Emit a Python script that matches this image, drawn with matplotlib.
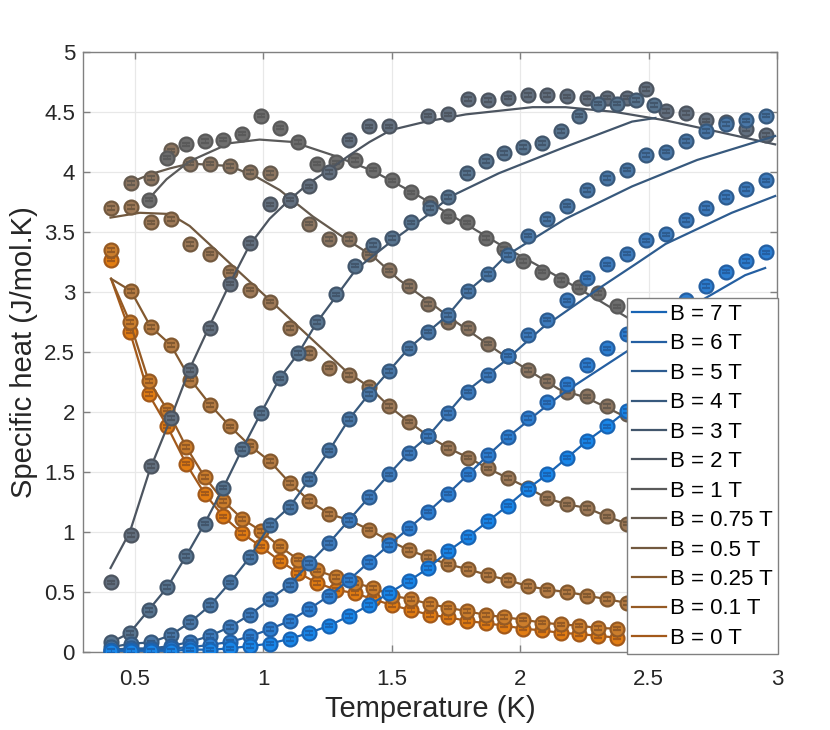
import numpy as np
import matplotlib
matplotlib.use("Agg")
from matplotlib import pyplot as plt

# temperature grids (K)
temp_a = [0.408, 0.485, 0.562, 0.640, 0.717, 0.794, 0.871, 0.948, 1.026, 1.103,
          1.180, 1.257, 1.334, 1.412, 1.489, 1.566, 1.643, 1.720, 1.798, 1.875,
          1.952, 2.029, 2.106, 2.184, 2.261, 2.338, 2.415, 2.492, 2.570, 2.647,
          2.724, 2.801, 2.878, 2.956]
temp_b = [0.408, 0.481, 0.554, 0.627, 0.700, 0.772, 0.845, 0.918, 0.991, 1.064,
          1.137, 1.210, 1.283, 1.356, 1.429, 1.502, 1.575, 1.648, 1.720, 1.793,
          1.866, 1.939, 2.012, 2.085, 2.158, 2.231, 2.304, 2.377, 2.450, 2.522]

# measured specific heat (J/mol.K)
c_b0 = [3.27, 2.67, 2.15, 1.88, 1.57, 1.32, 1.13, 0.99, 0.88, 0.76, 0.66, 0.575, 0.52, 0.49,
        0.44, 0.39, 0.35, 0.31, 0.29, 0.26, 0.24, 0.22, 0.195, 0.18, 0.16, 0.15, 0.135, 0.12]
c_b01 = [3.35, 2.75, 2.26, 2.02, 1.71, 1.46, 1.26, 1.11, 1.01, 0.88, 0.77, 0.68, 0.625, 0.575,
         0.535, 0.47, 0.44, 0.40, 0.37, 0.34, 0.31, 0.29, 0.27, 0.245, 0.23, 0.22, 0.20, 0.195]
c_b025 = [3.01, 2.71, 2.56, 2.27, 2.06, 1.88, 1.72, 1.59, 1.41, 1.26, 1.15, 1.10, 1.02,
          0.93, 0.85, 0.79, 0.73, 0.69, 0.64, 0.60, 0.55, 0.52, 0.50, 0.47, 0.44, 0.41]
c_b05 = [3.70, 3.71, 3.58, 3.61, 3.40, 3.32, 3.17, 3.02, 2.92, 2.70, 2.49, 2.37, 2.31, 2.21,
         2.05, 1.92, 1.80, 1.70, 1.62, 1.53, 1.45, 1.37, 1.28, 1.23, 1.20, 1.13, 1.07]
c_b075 = [3.91, 3.95, 4.18, 4.07, 4.07, 4.05, 4.00, 3.99, 3.77, 3.57, 3.44, 3.44, 3.32,
          3.18, 3.05, 2.90, 2.75, 2.70, 2.57, 2.47, 2.35, 2.26, 2.17, 2.13, 2.05, 1.98]
c_b1 = [3.77, 4.12, 4.23, 4.26, 4.27, 4.32, 4.47, 4.37, 4.25, 4.07, 4.08, 4.10, 4.02,
        3.93, 3.83, 3.74, 3.63, 3.58, 3.45, 3.36, 3.26, 3.17, 3.10, 3.04, 2.99, 2.88]
c_b2 = [0.58, 0.975, 1.55, 1.95, 2.35, 2.70, 3.07, 3.41, 3.73, 3.77, 3.88, 4.00, 4.27, 4.38,
        4.38, np.nan, 4.47, 4.48, 4.61, 4.60, 4.62, 4.64, 4.64, 4.63, 4.62, 4.62, 4.62, 4.69,
        4.51, 4.49, 4.43, 4.42, 4.36, 4.31]
c_b3 = [0.08, 0.16, 0.35, 0.54, 0.80, 1.07, 1.37, 1.69, 1.99, 2.28, 2.49, 2.75, 2.98, 3.22,
        3.39, 3.45, 3.58, 3.70, 3.79, 3.99, 4.09, 4.16, 4.21, 4.24, 4.34, 4.47, 4.57, 4.57,
        4.60, 4.56]
c_b4 = [0.04, 0.07, 0.08, 0.14, 0.25, 0.39, 0.58, 0.79, 1.06, 1.21, 1.44, 1.68, 1.94, 2.15,
        2.34, 2.53, 2.67, 2.81, 3.01, 3.15, 3.31, 3.47, 3.61, 3.72, 3.85, 3.95, 4.02, 4.14,
        4.17, 4.26, 4.34, 4.40, 4.43, 4.47]
c_b5 = [0.02, 0.03, 0.03, 0.05, 0.085, 0.135, 0.21, 0.31, 0.44, 0.56, 0.74, 0.91, 1.10, 1.29,
        1.48, 1.66, 1.80, 1.99, 2.17, 2.31, 2.47, 2.64, 2.77, 2.93, 3.12, 3.23, 3.32, 3.43,
        3.48, 3.60, 3.70, 3.79, 3.86, 3.93]
c_b6 = [0.01, 0.02, 0.02, 0.03, 0.04, 0.06, 0.085, 0.13, 0.19, 0.26, 0.36, 0.47, 0.60, 0.75,
        0.89, 1.03, 1.17, 1.32, 1.48, 1.64, 1.79, 1.95, 2.08, 2.23, 2.39, 2.53, 2.65, 2.76,
        2.85, 2.93, 3.05, 3.17, 3.26, 3.33]
c_b7 = [0.01, 0.01, 0.01, 0.01, 0.02, 0.02, 0.03, 0.05, 0.07, 0.11, 0.16, 0.22, 0.30, 0.39,
        0.49, 0.59, 0.70, 0.84, 0.96, 1.09, 1.22, 1.36, 1.48, 1.62, 1.76, 1.88, 2.01]

# model curves (where they leave the data)
fit_start_t, fit_start_c = 0.408, 3.11
tail_t_b6 = [2.102, 2.183, 2.455, 2.682, 2.876, 2.954]
tail_c_b6 = [2.05, 2.18, 2.56, 2.90, 3.14, 3.20]
tail_t_b5 = [1.790, 1.944, 2.086, 2.307, 2.455, 2.566, 2.824, 2.993]
tail_c_b5 = [2.17, 2.43, 2.70, 3.03, 3.24, 3.40, 3.66, 3.80]
tail_t_b4 = [1.944, 2.177, 2.436, 2.689, 2.993]
tail_c_b4 = [3.30, 3.61, 3.88, 4.10, 4.30]
tail_t_b3 = [1.362, 1.504, 1.646, 1.724, 1.918, 2.177, 2.436, 2.527]
tail_c_b3 = [3.19, 3.43, 3.65, 3.79, 3.99, 4.21, 4.42, 4.45]
fit_t_b2 = [0.406, 0.481, 0.559, 0.637, 0.714, 0.792, 0.870, 0.947, 1.025, 1.103, 1.180, 1.258,
            1.336, 1.414, 1.498, 1.634, 1.789, 2.048, 2.177, 2.371, 2.566, 2.760, 2.993]
fit_c_b2 = [0.70, 1.00, 1.52, 1.93, 2.36, 2.72, 3.07, 3.39, 3.61, 3.77, 3.91, 4.02,
            4.14, 4.25, 4.35, 4.42, 4.48, 4.54, 4.54, 4.50, 4.43, 4.34, 4.23]
fit_t_b1 = [0.552, 0.624, 0.714, 0.870, 0.986, 1.116, 1.271, 1.426, 1.582, 1.724, 1.918,
            2.112, 2.307, 2.423]
fit_c_b1 = [3.77, 3.94, 4.09, 4.24, 4.27, 4.25, 4.14, 4.01, 3.83, 3.65, 3.40, 3.17, 2.93, 2.78]
fit_t_b075 = [0.481, 0.559, 0.637, 0.714, 0.870, 0.973, 1.064, 1.193, 1.323, 1.426, 1.530,
              1.646, 1.724, 1.918, 2.151, 2.257, 2.335, 2.410]
fit_c_b075 = [3.91, 3.98, 4.03, 4.07, 4.05, 3.96, 3.85, 3.63, 3.44, 3.30, 3.10, 2.92, 2.79,
              2.50, 2.19, 2.12, 2.04, 1.96]
head_t_b05 = [0.406, 0.520, 0.637, 0.714, 0.805, 0.870, 1.012, 1.193, 1.323]
head_c_b05 = [3.62, 3.66, 3.65, 3.55, 3.37, 3.24, 2.96, 2.60, 2.34]

err = 0.015

labels = ["B = 0 T", "B = 0.1 T", "B = 0.25 T", "B = 0.5 T", "B = 0.75 T", "B = 1 T",
          "B = 2 T", "B = 3 T", "B = 4 T", "B = 5 T", "B = 6 T", "B = 7 T"]
line_colors = ["#a3591a", "#955a24", "#83592f", "#72593f", "#655a4e", "#5a5a5a",
               "#4d5560", "#42566c", "#37597d", "#2d5c90", "#245fa2", "#1864b4"]
face_colors = ["#e27d12", "#cc7e2c", "#b67c44", "#9f7a58", "#8d7560", "#6e6e6e",
               "#637080", "#587590", "#4a78a8", "#3d7bbd", "#2d7fd2", "#1887ea"]

pts = [
    (temp_b[:28], c_b0),
    (temp_b[:28], c_b01),
    (temp_a[1:27], c_b025),
    (temp_a[:27], c_b05),
    (temp_a[1:27], c_b075),
    (temp_b[2:28], c_b1),
    (temp_a, c_b2),
    (temp_b, c_b3),
    (temp_a, c_b4),
    (temp_a, c_b5),
    (temp_a, c_b6),
    (temp_a[:27], c_b7),
]
fits = [
    ([fit_start_t] + temp_b[1:28], [fit_start_c] + c_b0[1:]),
    ([fit_start_t] + temp_b[1:28], [fit_start_c] + c_b01[1:]),
    ([fit_start_t] + temp_a[1:27], [fit_start_c] + c_b025),
    (head_t_b05 + temp_a[13:27], head_c_b05 + c_b05[13:]),
    (fit_t_b075, fit_c_b075),
    (fit_t_b1, fit_c_b1),
    (fit_t_b2, fit_c_b2),
    (temp_b[:12] + tail_t_b3, c_b3[:12] + tail_c_b3),
    (temp_a[:20] + tail_t_b4, c_b4[:20] + tail_c_b4),
    (temp_a[:17] + tail_t_b5, c_b5[:17] + tail_c_b5),
    (temp_a[:21] + tail_t_b6, c_b6[:21] + tail_c_b6),
    (temp_a[:27], c_b7),
]

plt.rcParams['font.family'] = ['Liberation Sans', 'DejaVu Sans']

fig = plt.figure(figsize=(8.3, 7.3), dpi=100)
ax = fig.add_axes([0.1004, 0.1068, 0.8357, 0.822])

for i in range(len(labels)):
    z = 3 + i * 0.5
    ax.plot(fits[i][0], fits[i][1], '-', color=line_colors[i], lw=1.6,
            label=labels[i], zorder=z)
    ax.errorbar(pts[i][0], pts[i][1], yerr=err, fmt='o', ms=10,
                mfc=face_colors[i], mec=line_colors[i], mew=1.6,
                ecolor=line_colors[i], elinewidth=0.6, capsize=2.7, capthick=1.3,
                barsabove=True, zorder=z + 0.2)

ax.set_xlim(0.3, 3)
ax.set_ylim(0, 5)
ax.set_xticks([0.5, 1, 1.5, 2, 2.5, 3])
ax.set_xticklabels(['0.5', '1', '1.5', '2', '2.5', '3'])
ax.set_yticks(np.arange(0, 5.01, 0.5))
ax.set_yticklabels(['0', '0.5', '1', '1.5', '2', '2.5', '3', '3.5', '4', '4.5', '5'])
ax.grid(True, color='#e8e8e8', lw=0.9)
ax.set_axisbelow(True)
for s in ax.spines.values():
    s.set_color('#808080')
    s.set_linewidth(1)
ax.tick_params(direction='in', length=5, width=1, color='#808080', top=True, right=True,
               labelsize=16, labelcolor='#262626')
ax.tick_params(axis='x', pad=12)
ax.tick_params(axis='y', pad=6)
ax.set_xlabel('Temperature (K)', fontsize=21, color='#262626')
ax.set_ylabel('Specific heat (J/mol.K)', fontsize=21, color='#262626')

h, l = ax.get_legend_handles_labels()
leg = ax.legend(h[::-1], l[::-1], loc='lower right', bbox_to_anchor=(1.002, -0.004),
                fontsize=16, fancybox=False, edgecolor='#808080', framealpha=1,
                borderpad=0.25, labelspacing=0.38, handlelength=1.5, handletextpad=0.2,
                borderaxespad=0)
leg.set_zorder(20)
leg.get_frame().set_linewidth(1)

fig.savefig('out.png', dpi=100)
